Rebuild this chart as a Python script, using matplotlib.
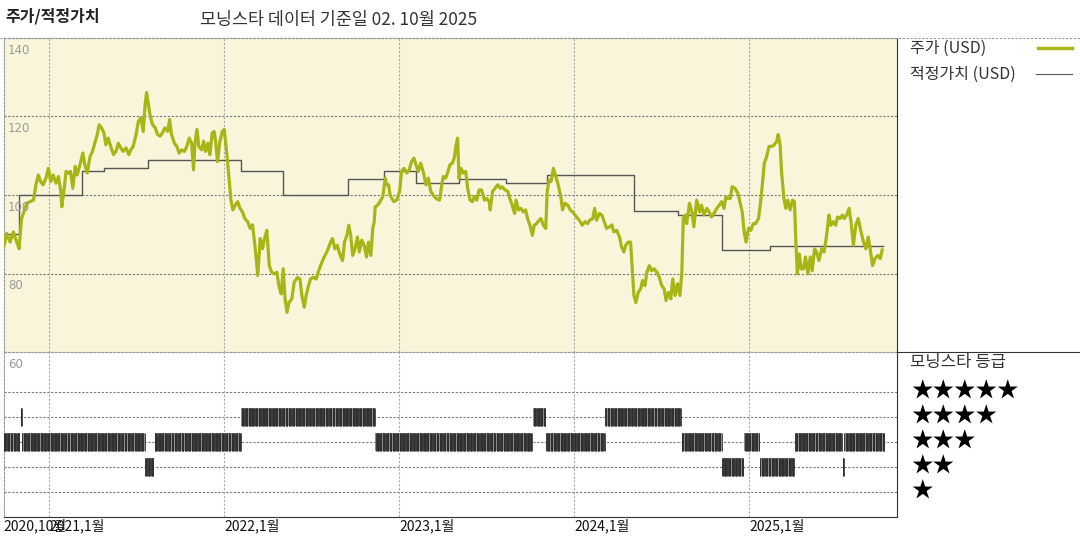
import matplotlib.pyplot as plt
from matplotlib.lines import Line2D
import numpy as np
import pandas as pd

plt.rcParams['font.family'] = ['Noto Sans CJK KR', 'DejaVu Sans']

# all day values are days since this date
ORIGIN = pd.Timestamp('2020-10-01')

price_day = [
    -3, 3, 10, 17, 24, 29, 34, 39, 45, 52, 59, 64, 69, 74, 79, 85, 90, 95, 100, 106,
    111, 116, 118, 123, 127, 132, 136, 141, 146, 150, 156, 162, 166, 171, 177, 182, 187, 192, 196, 201,
    206, 210, 215, 220, 226, 231, 236, 241, 246, 252, 258, 262, 267, 273, 278, 283, 288, 292, 295,
    302, 307, 313, 318, 323, 328, 333, 339, 343, 347, 353, 358, 363, 368, 374, 379, 384, 389, 393, 396,
    400, 404, 410, 414, 418, 423, 427, 432, 436, 439, 443, 448, 453, 457, 462, 467, 471, 475, 480, 485,
    490, 495, 500, 506, 511, 516, 521, 527, 532, 537, 541, 546, 551, 556, 562, 567, 571, 576, 580, 584,
    588, 592, 598, 603,
    610, 615, 619, 624, 628, 633, 637, 643, 649, 653, 658, 664, 669, 674, 679, 683, 688, 693, 699, 704,
    708, 713, 717, 721, 725, 730, 735, 739, 744, 749, 754, 758, 763, 767, 770, 772, 777, 782, 788, 793,
    796, 800, 803, 807, 811, 817, 823, 827, 832, 838, 843, 848, 853, 857, 862, 867, 873, 878, 883, 888,
    893, 899, 906,
    907, 911, 914, 919, 923, 928, 933, 937, 940, 944, 947, 951, 956, 961, 965, 970, 975, 979, 984, 989,
    994, 1000, 1005, 1010, 1012, 1017, 1022, 1028, 1033, 1037, 1043, 1049, 1053, 1058, 1063, 1066, 1071,
    1076, 1081, 1086, 1090, 1095, 1100, 1104, 1109, 1114, 1118, 1123, 1128, 1131, 1135, 1139, 1144, 1149,
    1154, 1160, 1163, 1168, 1174, 1179, 1184, 1189, 1195, 1200, 1204, 1210,
    1215, 1220, 1226, 1230, 1234, 1240, 1245, 1250, 1255, 1261, 1266, 1270, 1276, 1282, 1286, 1291, 1295,
    1300, 1305, 1309, 1312, 1316, 1321, 1326, 1330, 1335, 1339, 1344, 1349, 1354, 1360, 1365, 1370, 1375,
    1379, 1384, 1389, 1393, 1398, 1403, 1408, 1412, 1415, 1419, 1422, 1428, 1433, 1437, 1443, 1449, 1453,
    1458, 1464, 1469, 1474, 1479, 1485, 1490, 1495, 1500, 1504, 1509,
    1513, 1517, 1523, 1529, 1533, 1538, 1542, 1546, 1551, 1556, 1561, 1566, 1572, 1576, 1580, 1584, 1589,
    1594, 1600, 1605, 1610, 1613, 1617, 1620, 1625, 1629, 1633, 1638, 1643, 1647, 1650, 1653, 1657, 1661,
    1666, 1670, 1675, 1680, 1684, 1689, 1693, 1698, 1704, 1709, 1714, 1719, 1723, 1728, 1733, 1737, 1742,
    1747, 1751, 1756, 1761, 1765, 1770, 1775, 1780, 1786, 1791, 1796, 1801, 1805, 1810, 1815, 1821, 1826,
    1830,
]
price = [
    86.8, 90.2, 88, 90.6, 88, 86.3, 94, 95.7, 97.9, 98.3, 98.7, 102.6, 105.1, 103.4, 102.6, 104.3, 106.8, 103.4, 105.1, 103,
    104.7, 100.9, 97, 101.7, 106, 105.6, 106, 101.7, 107.3, 105.1, 107.7, 110.7, 107.7, 105.6, 109.8, 111.1, 113.2, 115.4, 117.9, 117.1,
    115.8, 112.8, 114.5, 112.4, 110.3, 111.1, 113.2, 112, 111.1, 112, 110.3, 111.5, 112.4, 115.4, 118.8, 119.7, 116.2, 123.1, 126.1,
    120.5, 118, 117.1, 115.4, 115, 115.8, 117.1, 116.2, 119.2, 115.4, 113.2, 112.4, 110.7, 111.5, 111.1, 112.4, 114.5, 113.2, 106.4, 113.2,
    116.7, 112.4, 111.5, 113.7, 111.1, 113.2, 110.3, 115.8, 116.2, 113.7, 108.5, 113.7, 116.2, 116.7, 111.1, 104.3, 98.7, 96.2, 97.4, 98.3,
    96.6, 95.7, 94, 93.2, 91.5, 92.4, 87.2, 79.5, 88.9, 86.3, 88.9, 91, 82, 80.3, 79.9, 80.3, 76.9, 74.8, 81.2, 73.5,
    70.1, 72.6, 73.5, 77.8,
    79, 78.6, 74.4, 71.4, 74.4, 76.9, 78.6, 79, 78.6, 80.3, 82, 83.8, 85, 86.3, 88, 88.9, 86.3, 87.2, 84.6, 83.3,
    88, 89.7, 92.3, 89.7, 84.6, 86.3, 89.3, 85.5, 88.5, 87.2, 84.2, 88, 84.6, 91.5, 93.2, 97, 97.4, 98.3, 99.6, 104.3,
    102.6, 102.6, 100, 99.1, 98.3, 98.7, 100.9, 106, 106.8, 105.6, 106.4, 108.5, 109.4, 107.7, 106, 108.1, 105.6, 102.6, 104.3, 100.9,
    100, 99.1, 98.7,
    99.1, 102.6, 104.7, 104.3, 105.6, 107.7, 108.1, 109.4, 112, 114.5, 104.3, 106.8, 105.6, 106, 101.7, 98.7, 98.3, 99.6, 98.7, 101.3,
    101.3, 98.7, 99.1, 98.3, 96.2, 100.9, 101.7, 102.6, 101.7, 102.1, 101.3, 100.9, 99.1, 97.4, 95.3, 98.7, 96.2,
    96.6, 95.7, 96.2, 94, 92.3, 89.7, 92.3, 92.7, 93.6, 94, 92.3, 91.5, 100.9, 103.8, 103.4, 106.8, 104.7,
    102.6, 99.1, 96.2, 97.9, 97.4, 96.2, 95.7, 94.9, 94, 93.2, 92.3, 93.2,
    92.7, 93.6, 94, 96.6, 93.6, 95.3, 94.9, 93.2, 91.5, 91.9, 92.4, 90.6, 91, 89.3, 86.8, 85.5, 87.2,
    88, 88, 80.3, 74.4, 72.6, 75.2, 76.1, 78.2, 76.9, 80.3, 82, 80.7, 81.2, 80.3, 79, 76.9, 76.1,
    73.1, 75.2, 73.5, 78.6, 74.4, 77.4, 74.4, 80.3, 94, 94.9, 92.7, 97.9, 95.7, 91.9, 98.7, 95.7, 97.4,
    94.9, 96.6, 95.7, 94.4, 95.3, 96.6, 97.4, 98.3, 96.6, 99.6, 99.1,
    99.1, 102.1, 101.7, 100.4, 98.3, 95.7, 90.6, 88, 91.5, 91, 92.7, 92.7, 94, 97.9, 102.6, 108.1, 109.8,
    112.4, 112.4, 112.8, 113.7, 115.4, 112.8, 106, 99.1, 96.6, 98.7, 96.2, 98.7, 98.3, 88, 79.9, 85, 81.2,
    81.2, 84.2, 79.9, 84.2, 80.7, 86.3, 85.5, 83.3, 86.3, 85.5, 89.7, 94.9, 92.3, 93.2, 92.3, 94.4, 94,
    94.9, 94, 94.9, 96.6, 93.2, 87.2, 92.3, 94, 90.6, 88, 86.3, 89.3, 86.3, 82, 83.8, 84.6, 83.8,
    86,
]

fv_day = [-3, 29, 161, 206, 297, 491, 579, 716, 790, 857, 947, 1045, 1130, 1312, 1404, 1496, 1597, 1832]
fv = [90, 100, 106, 107, 109, 106, 100, 104, 106, 103, 104, 103, 105, 96, 95, 86, 87, 87]

rating_start = [-3, 32, 35, 292, 312, 492, 772, 1101, 1128, 1252, 1412, 1496, 1542, 1575, 1648, 1748, 1751]
rating_end = [31, 34, 291, 310, 491, 771, 1099, 1127, 1251, 1411, 1495, 1540, 1573, 1647, 1747, 1750, 1834]
rating = [3, 4, 3, 2, 3, 4, 3, 4, 3, 4, 3, 2, 3, 2, 3, 2, 3]

year_ticks = ['2021-01-01', '2022-01-01', '2023-01-01', '2024-01-01', '2025-01-01']
tick_labels = ['2020,10월', '2021,1월', '2022,1월', '2023,1월', '2024,1월', '2025,1월']
price_grid = [80, 100, 120]
price_labels = [140, 120, 100, 80]
star_rows = [5, 4, 3, 2, 1]


def to_dates(days):
    return ORIGIN + pd.to_timedelta(np.asarray(days), unit='D')


x_min = ORIGIN + pd.Timedelta(days=-3)
x_max = ORIGIN + pd.Timedelta(days=1861)

W, H = 1080, 540
fig = plt.figure(figsize=(10.8, 5.4), dpi=100)
L, R = 3.8 / W, 897 / W
ax = fig.add_axes([L, 1 - 352 / H, R - L, 314 / H])
ax2 = fig.add_axes([L, 1 - 517 / H, R - L, 165 / H])

olive = '#A9B516'
dash = (0, (2, 1.5))

# price panel
ax.set_facecolor('#F8F5DB')
ax.plot(to_dates(price_day), price, color=olive, lw=2.3, zorder=3)
ax.step(to_dates(fv_day), fv, where='post', color='#555555', lw=1, zorder=2)
ax.set_xlim(x_min, x_max)
ax.set_ylim(60, 140)
for v in price_grid:
    ax.axhline(v, color='#777777', ls=dash, lw=0.8, zorder=1)
for d in year_ticks:
    ax.axvline(pd.Timestamp(d), color='#aaaaaa', ls=dash, lw=0.8, zorder=1)
ax.set_xticks([])
ax.set_yticks([])
for s in ['top', 'left', 'bottom']:
    ax.spines[s].set_color('#999999')
    ax.spines[s].set_linestyle(dash)
    ax.spines[s].set_linewidth(0.8)
ax.spines['right'].set_color('#333333')
for v in price_labels + [60]:
    ax.annotate(str(v), xy=(0, v), xycoords=('axes fraction', 'data'),
                xytext=(3, -4), textcoords='offset points', va='top', ha='left',
                fontsize=8.5, color='#999999', family='DejaVu Sans',
                annotation_clip=False, zorder=5)

# rating panel
ax2.patch.set_visible(False)
ax2.set_xlim(x_min, x_max)
ax2.set_ylim(0, 6.6)
for r in star_rows:
    ax2.axhline(r, color='#777777', ls=dash, lw=0.8, zorder=1)
for d in year_ticks:
    ax2.axvline(pd.Timestamp(d), color='#aaaaaa', ls=dash, lw=0.8, zorder=1)
for s0, s1, r in zip(rating_start, rating_end, rating):
    d0, d1 = to_dates([s0, s1])
    ax2.fill_between([d0, d1], r - 0.36, r + 0.36, color='#8c8c8c', lw=0, zorder=2)
    days = pd.bdate_range(d0, d1)
    if len(days) == 0:
        days = pd.DatetimeIndex([d0])
    ax2.vlines(days, r - 0.36, r + 0.36, color='#2e2e2e', lw=0.6, zorder=3)
ax2.set_yticks([])
ax2.set_xticks([x_min] + [pd.Timestamp(d) for d in year_ticks])
ax2.set_xticklabels(tick_labels, ha='left', fontsize=10, color='#111111')
ax2.tick_params(axis='x', length=0, pad=1)
ax2.spines['top'].set_visible(False)
ax2.spines['left'].set_color('#999999')
ax2.spines['left'].set_linestyle(dash)
ax2.spines['left'].set_linewidth(0.8)
ax2.spines['bottom'].set_color('#333333')
ax2.spines['right'].set_color('#333333')

# frame lines around the right-hand panel
fig.add_artist(Line2D([0, 1], [1 - 38 / H] * 2, color='#999999', lw=0.8, ls=dash))
fig.add_artist(Line2D([R, 1], [1 - 352 / H] * 2, color='#333333', lw=0.8))

# titles
fig.text(5 / W, 1 - 16 / H, '주가/적정가치', fontsize=11.5, fontweight='bold',
         color='#222222', va='center')
fig.text(200 / W, 1 - 20 / H, '모닝스타 데이터 기준일 02. 10월 2025', fontsize=12.5,
         color='#333333', va='center')

# legend
fig.text(910 / W, 1 - 48 / H, '주가 (USD)', fontsize=11.5, color='#333333', va='center')
fig.text(910 / W, 1 - 74 / H, '적정가치 (USD)', fontsize=11.5, color='#333333', va='center')
fig.add_artist(Line2D([1038 / W, 1072 / W], [1 - 48 / H] * 2, color=olive, lw=2.5))
fig.add_artist(Line2D([1036 / W, 1072 / W], [1 - 74 / H] * 2, color='#555555', lw=0.8))

fig.text(910 / W, 1 - 362 / H, '모닝스타 등급', fontsize=12, color='#333333', va='center')
for r in star_rows:
    ax2.text(1.016, r, '★' * r, transform=ax2.get_yaxis_transform(), fontsize=15.5,
             color='black', va='center', ha='left', clip_on=False)

fig.savefig('out.png', dpi=100)
